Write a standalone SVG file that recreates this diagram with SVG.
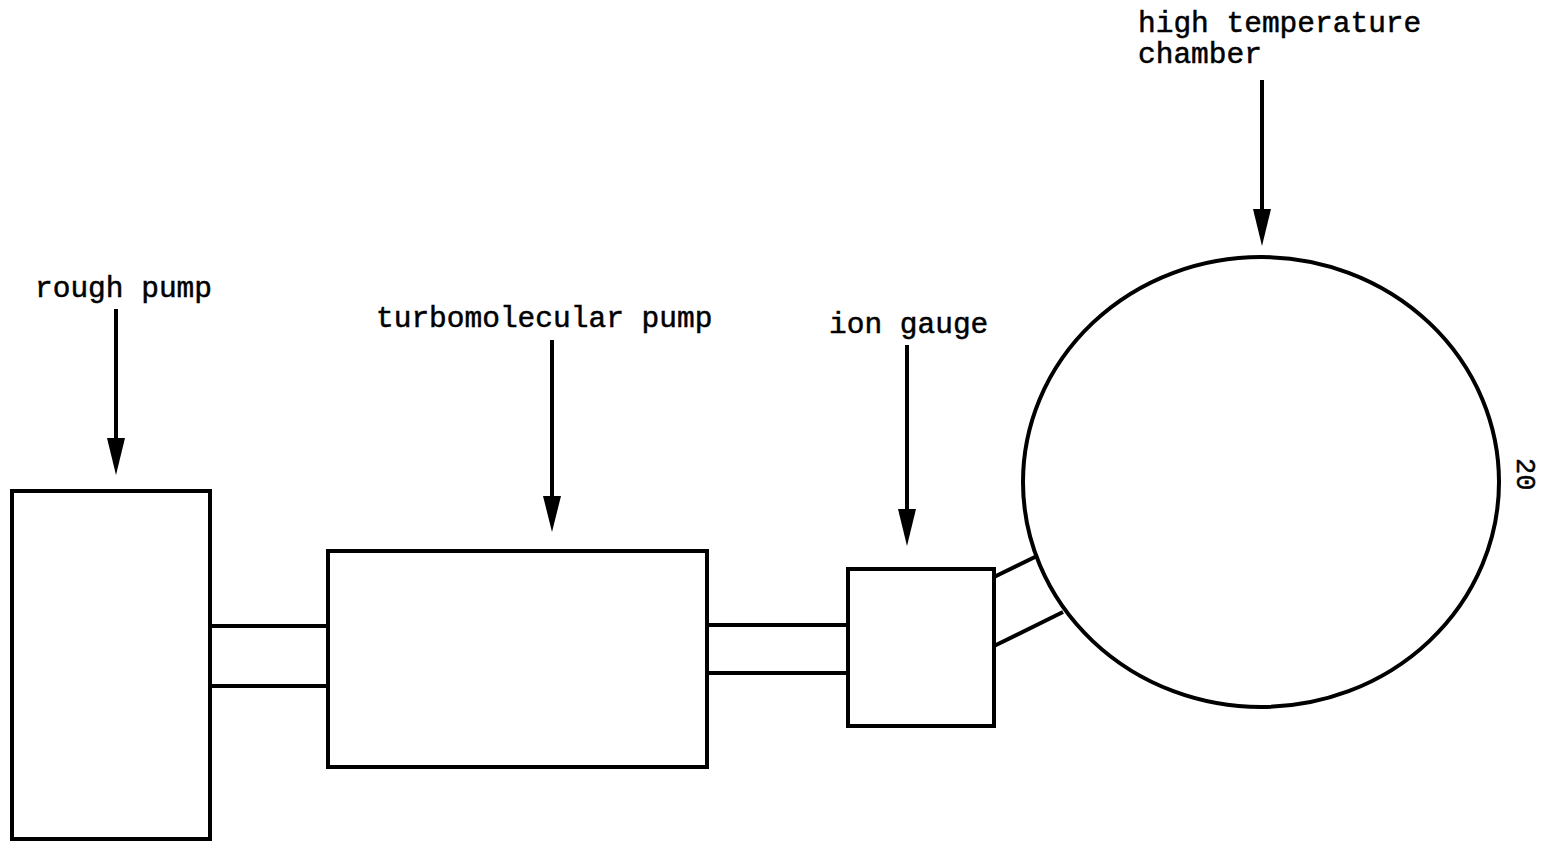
<svg xmlns="http://www.w3.org/2000/svg" width="1553" height="842" viewBox="0 0 1553 842">
<style>
.s{fill:none;stroke:#000;stroke-width:4}
.t{font-family:"Liberation Mono","Courier New",monospace;font-size:29.5px;fill:#000;stroke:#000;stroke-width:0.5}
.a{stroke:#000;stroke-width:4;fill:none}
.h{fill:#000}
</style>
<rect width="1553" height="842" fill="#fff"/>
<g id="rough-pump">
<rect class="s" x="12" y="491" width="198" height="348"/>
<text class="t" x="35" y="297">rough pump</text>
</g>
<g id="turbomolecular-pump">
<rect class="s" x="328" y="551" width="379" height="216"/>
<text class="t" x="376" y="327">turbomolecular pump</text>
</g>
<g id="ion-gauge">
<rect class="s" x="848" y="569" width="146" height="157"/>
<text class="t" x="829" y="333">ion gauge</text>
</g>
<g id="chamber">
<ellipse class="s" cx="1261" cy="482" rx="238" ry="225"/>
<text class="t" x="1138" y="32">high temperature</text>
<text class="t" x="1138" y="63">chamber</text>
</g>
<g id="label-20">
<text class="t" style="font-size:27px" transform="translate(1517,458) rotate(90)">20</text>
</g>
<g id="connectors">
<line class="s" x1="210" y1="626" x2="328" y2="626"/>
<line class="s" x1="210" y1="686" x2="328" y2="686"/>
<line class="s" x1="707" y1="625" x2="848" y2="625"/>
<line class="s" x1="707" y1="673" x2="848" y2="673"/>
<line class="s" x1="994" y1="577" x2="1037" y2="556"/>
<line class="s" x1="994" y1="646" x2="1063" y2="612"/>
<line class="a" x1="116" y1="309" x2="116" y2="442"/>
<polygon class="h" points="107,438 125,438 116,475"/>
<line class="a" x1="552" y1="340" x2="552" y2="500"/>
<polygon class="h" points="543,496 561,496 552,532"/>
<line class="a" x1="907" y1="345" x2="907" y2="513"/>
<polygon class="h" points="898,509 916,509 907,546"/>
<line class="a" x1="1262" y1="80" x2="1262" y2="213"/>
<polygon class="h" points="1253,209 1271,209 1262,246"/>
</g>
</svg>
